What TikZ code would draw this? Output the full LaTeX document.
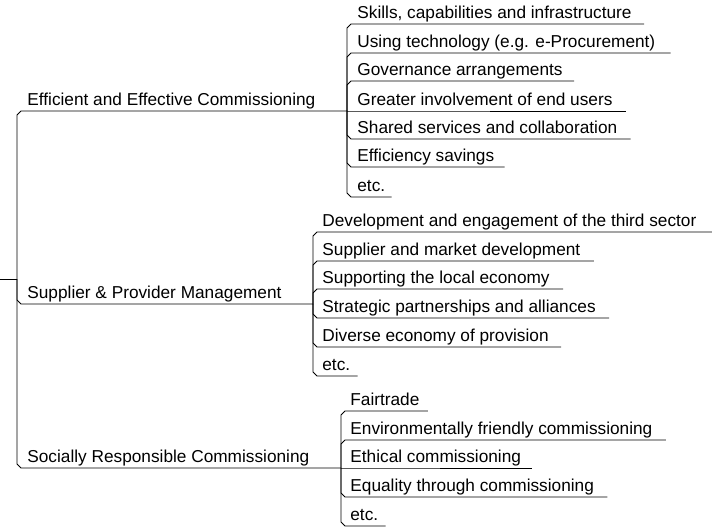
\documentclass[tikz,border=0pt]{standalone}
\usepackage{fontspec}
\setmainfont{Liberation Sans}
\usetikzlibrary{calc}
\begin{document}
\begin{tikzpicture}[x=1pt, y=-1pt, line width=0.8pt,
    topic/.style={anchor=south west, inner sep=0pt, text depth=5pt,
      font=\fontsize{17.25}{20}\selectfont},
    % abgeschraegte Ecke nach oben / unten
    up/.style={to path={-- ($(\tikztostart |- \tikztotarget)+(0,4)$)
      -- ($(\tikztostart |- \tikztotarget)+(4,0)$) -- (\tikztotarget)}},
    down/.style={to path={-- ($(\tikztostart |- \tikztotarget)+(0,-4)$)
      -- ($(\tikztostart |- \tikztotarget)+(4,0)$) -- (\tikztotarget)}},
    flat/.style={to path={-- (\tikztotarget)}}]
  \useasboundingbox (0,0) rectangle (722,532);

  % Wurzel und Stamm
  \coordinate (root) at (0,279);
  \coordinate (trunk) at (17,279);
  \draw (root) -- (trunk);

  % Hauptzweige
  \node[topic] (m1) at (27,111) {Efficient and Effective Commissioning};
  \node[topic] (m2) at (27,304) {Supplier \& Provider Management};
  \node[topic] (m3) at (27,468) {Socially Responsible Commissioning};
  \coordinate (j1) at (347,111);
  \coordinate (j2) at (313,304);
  \coordinate (j3) at (341,468);
  \draw (trunk) to[up] (m1.south west) -- (j1);
  \draw (trunk) to[down] (m2.south west) -- (j2);
  \draw (trunk) to[down] (m3.south west) -- (j3);

  % Zweig 1
  \foreach \y/\s/\p/\txt [count=\i] in {
      24/up/12/{Skills, capabilities and infrastructure},
      53/up/15/{Using technology (e.g. e-Procurement)},
      81/up/11/{Governance arrangements},
      111/flat/13/{Greater involvement of end users},
      139/down/13/{Shared services and collaboration},
      167/down/10/{Efficiency savings},
      197/down/6/{etc.}} {
    \node[topic] (a\i) at (357,\y) {\txt};
    \draw (j1) to[\s] (a\i.south west) -- ([xshift=\p pt]a\i.south east);
  }

  % Zweig 2
  \foreach \y/\s/\p/\txt [count=\i] in {
      232/up/15/{Development and engagement of the third sector},
      261/up/13/{Supplier and market development},
      289/up/13/{Supporting the local economy},
      318/down/13/{Strategic partnerships and alliances},
      347/down/12/{Diverse economy of provision},
      376/down/7/{etc.}} {
    \node[topic] (b\i) at (322,\y) {\txt};
    \draw (j2) to[\s] (b\i.south west) -- ([xshift=\p pt]b\i.south east);
  }

  % Zweig 3
  \foreach \y/\s/\p/\txt [count=\i] in {
      411/up/8/{Fairtrade},
      440/up/13/{Environmentally friendly commissioning},
      468/flat/11/{Ethical commissioning},
      497/down/13/{Equality through commissioning},
      526/down/7/{etc.}} {
    \node[topic] (c\i) at (350,\y) {\txt};
    \draw (j3) to[\s] (c\i.south west) -- ([xshift=\p pt]c\i.south east);
  }
\end{tikzpicture}
\end{document}
